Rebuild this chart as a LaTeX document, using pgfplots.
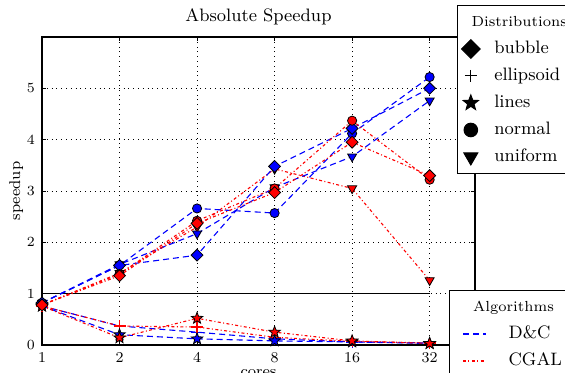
\documentclass[border=0pt]{standalone}
\usepackage{pgfplots}
\usepackage{pgfplotstable}
\pgfplotsset{compat=1.18}

\pgfplotstableread{
cores bubble ellipsoid lines normal uniform
1  0.82 0.76 0.76 0.82 0.82
2  1.55 0.37 0.20 1.55 1.57
4  1.75 0.25 0.12 2.66 2.17
8  3.48 0.12 0.08 2.57 3.07
16 4.22 0.06 0.06 4.12 3.67
32 5.00 0.04 0.03 5.22 4.76
}\dctable

\pgfplotstableread{
cores bubble ellipsoid lines normal uniform
1  0.78 0.76 0.76 0.78 0.78
2  1.35 0.37 0.14 1.38 1.40
4  2.37 0.35 0.52 2.42 2.30
8  2.97 0.15 0.25 3.05 3.43
16 3.95 0.07 0.08 4.37 3.05
32 3.30 0.04 0.03 3.22 1.26
}\cgtable

\pgfdeclareplotmark{fstar}{%
  \pgfpathmoveto{\pgfpointpolar{90}{\pgfplotmarksize}}%
  \pgfpathlineto{\pgfpointpolar{126}{0.42\pgfplotmarksize}}%
  \pgfpathlineto{\pgfpointpolar{162}{\pgfplotmarksize}}%
  \pgfpathlineto{\pgfpointpolar{198}{0.42\pgfplotmarksize}}%
  \pgfpathlineto{\pgfpointpolar{234}{\pgfplotmarksize}}%
  \pgfpathlineto{\pgfpointpolar{270}{0.42\pgfplotmarksize}}%
  \pgfpathlineto{\pgfpointpolar{306}{\pgfplotmarksize}}%
  \pgfpathlineto{\pgfpointpolar{342}{0.42\pgfplotmarksize}}%
  \pgfpathlineto{\pgfpointpolar{18}{\pgfplotmarksize}}%
  \pgfpathlineto{\pgfpointpolar{54}{0.42\pgfplotmarksize}}%
  \pgfpathclose
  \pgfusepathqfillstroke
}

\pgfplotsset{
  dc/.style={blue, line width=0.55pt, dash pattern=on 3pt off 2pt},
  cg/.style={red, line width=0.55pt, dash pattern=on 1.5pt off 1.2pt on 0.5pt off 1.2pt},
  mbub/.style={mark=square*, mark size=2.1pt, mark options={solid, draw=black, fill=#1, rotate=45, line width=0.4pt}},
  mell/.style={mark=+, mark size=3pt, mark options={solid, draw=#1, line width=0.6pt}},
  mlin/.style={mark=fstar, mark size=3pt, mark options={solid, draw=black, fill=#1, line width=0.4pt}},
  mnor/.style={mark=*, mark size=2.3pt, mark options={solid, draw=black, fill=#1, line width=0.4pt}},
  muni/.style={mark=triangle*, mark size=2.6pt, mark options={solid, draw=black, fill=#1, rotate=180, line width=0.4pt}},
}

\begin{document}
\begin{tikzpicture}
\begin{axis}[name=ax, scale only axis, width=216.5pt, height=154pt,
  xmode=log, log basis x=2, xmin=1, xmax=48, ymin=0, ymax=6,
  xtick={1,2,4,8,16,32}, xticklabels={1,2,4,8,16,32},
  ytick={0,1,2,3,4,5},
  grid=major, grid style={black, dotted, line width=0.5pt},
  tick align=inside, major tick length=2pt, tick style={black, line width=0.5pt},
  axis line style={line width=0.6pt},
  ticklabel style={font=\fontsize{7.5}{8}\selectfont},
  title={Absolute Speedup}, title style={font=\fontsize{9}{10}\selectfont, yshift=-3.5pt},
  xlabel={cores}, ylabel={speedup},
  label style={font=\fontsize{7.8}{8}\selectfont},
  xlabel style={yshift=3.3pt},
  ylabel style={yshift=-5pt},
  legend cell align=left,
  legend style={at={(0.958,1.104)}, anchor=north west, draw=black, line width=0.5pt, fill=white,
    inner xsep=2pt, inner ysep=1.5pt, row sep=0pt,
    nodes={font=\fontsize{9}{10}\selectfont, text height=6pt, text depth=1.5pt, inner ysep=3pt, inner xsep=3pt}},
  legend image code/.code={\draw[#1] plot coordinates {(0pt,0pt)}; \path (-4.5pt,0pt) (8.5pt,0pt);},
]
\addplot[black, line width=0.6pt, forget plot] coordinates {(1,1) (32,1)};

\addplot[dc, mell=blue, forget plot] table[x=cores, y=ellipsoid] {\dctable};
\addplot[cg, mell=red, forget plot] table[x=cores, y=ellipsoid] {\cgtable};
\addplot[dc, mlin=blue, forget plot] table[x=cores, y=lines] {\dctable};
\addplot[cg, mlin=red, forget plot] table[x=cores, y=lines] {\cgtable};
\addplot[cg, muni=red, forget plot] table[x=cores, y=uniform] {\cgtable};
\addplot[dc, muni=blue, forget plot] table[x=cores, y=uniform] {\dctable};
\addplot[dc, mnor=blue, forget plot] table[x=cores, y=normal] {\dctable};
\addplot[dc, mbub=blue, forget plot] table[x=cores, y=bubble] {\dctable};
\addplot[cg, mnor=red, forget plot] table[x=cores, y=normal] {\cgtable};
\addplot[cg, mbub=red, forget plot] table[x=cores, y=bubble] {\cgtable};

\addlegendimage{empty legend}
\addlegendentry{\hspace{-11.4pt}\fontsize{7.3}{8}\selectfont Distributions}
\addlegendimage{only marks, black, mark=square*, mark size=3.3pt, mark options={rotate=45}}
\addlegendentry{bubble}
\addlegendimage{only marks, black, mark=+, mark size=3pt, mark options={line width=0.5pt}}
\addlegendentry{ellipsoid}
\addlegendimage{only marks, black, mark=fstar, mark size=4pt}
\addlegendentry{lines}
\addlegendimage{only marks, black, mark=*, mark size=3.4pt}
\addlegendentry{normal}
\addlegendimage{only marks, black, mark=triangle*, mark size=4pt, mark options={rotate=180}}
\addlegendentry{uniform}
\end{axis}

\begin{axis}[at={(ax.south west)}, anchor=south west, scale only axis, width=216.5pt, height=154pt,
  hide axis, xmin=0, xmax=1, ymin=0, ymax=1,
  legend cell align=left,
  legend style={at={(0.94,0.179)}, anchor=north west, draw=black, line width=0.5pt, fill=white,
    inner xsep=2pt, inner ysep=1.5pt, row sep=0pt,
    nodes={font=\fontsize{9}{10}\selectfont, text height=6pt, text depth=1.5pt, inner ysep=3pt, inner xsep=3pt}},
  legend image code/.code={\draw[#1, line width=0.7pt] (0pt,0pt) -- (11.5pt,0pt); \path (-4.5pt,0pt) (19.5pt,0pt);},
]
\addlegendimage{empty legend}
\addlegendentry{\hspace{-17.8pt}\fontsize{7.3}{8}\selectfont Algorithms}
\addlegendimage{dc}
\addlegendentry{D\&C}
\addlegendimage{cg}
\addlegendentry{CGAL}
\end{axis}

\pgfresetboundingbox
\path[use as bounding box] ([shift={(-21pt,-14pt)}]ax.south west) rectangle ++(282.5pt,186.5pt);
\end{tikzpicture}
\end{document}
